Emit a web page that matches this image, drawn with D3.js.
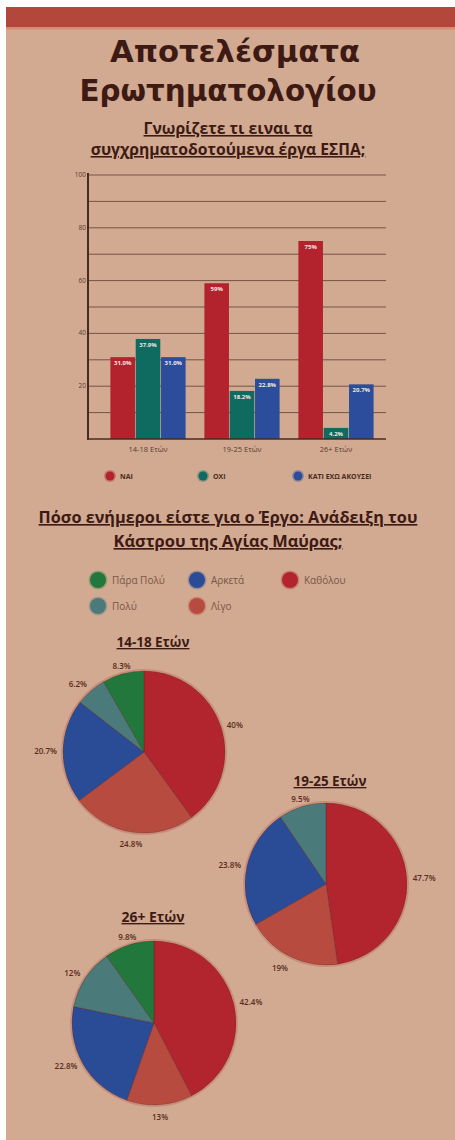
<!DOCTYPE html>
<html><head><meta charset="utf-8">
<script src="https://cdn.jsdelivr.net/npm/d3@7"></script>
<style>
html,body{margin:0;padding:0;background:#fff;}
svg{display:block;}
text{font-family:"Open Sans","DejaVu Sans",sans-serif;}
</style></head>
<body>
<svg id="c" width="455" height="1140"></svg>
<script>
// ---- data ----
const barGroups = ["14-18 Ετών", "19-25 Ετών", "26+ Ετών"];
const barSeries = ["ΝΑΙ", "ΟΧΙ", "ΚΑΤΙ ΕΧΩ ΑΚΟΥΣΕΙ"];
const valuesNai = [31.0, 59, 75];
const valuesOxi = [37.9, 18.2, 4.2];
const valuesKati = [31.0, 22.8, 20.7];
const barLabelsNai = ["31.0%", "59%", "75%"];
const barLabelsOxi = ["37.9%", "18.2%", "4.2%"];
const barLabelsKati = ["31.0%", "22.8%", "20.7%"];
const yTicks = [20, 40, 60, 80, 100];

const pieCategories = ["Καθόλου", "Λίγο", "Αρκετά", "Πολύ", "Πάρα Πολύ"];
const legendOrder = ["Πάρα Πολύ", "Αρκετά", "Καθόλου", "Πολύ", "Λίγο"];
const pie1418 = [40, 24.8, 20.7, 6.2, 8.3];
const pie1925 = [47.7, 19, 23.8, 9.5, 0];
const pie26 = [42.4, 13, 22.8, 12, 9.8];
const pie1418Labels = ["40%", "24.8%", "20.7%", "6.2%", "8.3%"];
const pie1925Labels = ["47.7%", "19%", "23.8%", "9.5%", ""];
const pie26Labels = ["42.4%", "13%", "22.8%", "12%", "9.8%"];
const pieTitles = ["14-18 Ετών", "19-25 Ετών", "26+ Ετών"];

// ---- styles ----
const BG = "#d1aa91", DARK = "#3e1a14";
const barColors = ["#b3232e", "#0f6a60", "#2b4d9b"];
const pieColors = {"Καθόλου":"#b2252e","Λίγο":"#b84b40","Αρκετά":"#2a4b95","Πολύ":"#4a7a7a","Πάρα Πολύ":"#21773c"};

const svg = d3.select("#c");
svg.append("rect").attr("x",6).attr("y",7).attr("width",449).attr("height",1133).attr("fill",BG);
svg.append("rect").attr("x",6).attr("y",7).attr("width",449).attr("height",20).attr("fill","#b4473c");
svg.append("rect").attr("x",6).attr("y",27).attr("width",449).attr("height",2.5).attr("fill","#d88a72");

function fit(t, w){
  const l = t.node().getComputedTextLength();
  const fs = parseFloat(t.attr("font-size"));
  t.attr("font-size", fs * w / l);
  return t;
}
function txt(x,y,s,fs,opt={}){
  const t = svg.append("text").attr("x",x).attr("y",y).attr("font-size",fs)
    .attr("text-anchor",opt.anchor||"middle").attr("fill",opt.fill||DARK)
    .attr("font-weight",opt.weight||700).text(s);
  if(opt.family) t.style("font-family",opt.family);
  if(opt.underline) t.style("text-decoration","underline");
  if(opt.width) fit(t,opt.width);
  if(opt.spread) t.attr("textLength",opt.spread).attr("lengthAdjust","spacingAndGlyphs");
  return t;
}

// titles
txt(235,62,"Αποτελέσματα",30,{weight:700,family:"DejaVu Sans",spread:250});
txt(228,101,"Ερωτηματολογίου",30,{weight:700,family:"DejaVu Sans",spread:297});
txt(228,134,"Γνωρίζετε τι ειναι τα",13,{underline:true,width:169});
txt(228,155,"συγχρηματοδοτούμενα έργα ΕΣΠΑ;",13,{underline:true,width:275});

// ---- bar chart ----
const y = d3.scaleLinear().domain([0,100]).range([439,175]);
const x0 = d3.scaleBand().domain(barGroups).range([101,383]).paddingInner(0.2).paddingOuter(0.1);
const x1 = d3.scaleBand().domain(barSeries).range([0,x0.bandwidth()]).paddingInner(0.03);
const g = svg.append("g");
g.selectAll("line.grid").data(d3.range(10,101,10)).join("line")
  .attr("x1",88).attr("x2",386).attr("y1",d=>y(d)).attr("y2",d=>y(d))
  .attr("stroke","#6e4a3a").attr("stroke-width",0.9);
g.selectAll("text.yt").data(yTicks).join("text")
  .attr("x",86).attr("y",d=>y(d)+2).attr("text-anchor","end").attr("font-size",6.5)
  .attr("fill","#5a3a30").text(d=>d);
const seriesVals = [valuesNai, valuesOxi, valuesKati];
const seriesLbls = [barLabelsNai, barLabelsOxi, barLabelsKati];
barSeries.forEach((s,si)=>{
  barGroups.forEach((grp,gi)=>{
    const v = seriesVals[si][gi];
    const bx = x0(grp)+x1(s), bw = x1.bandwidth();
    g.append("rect").attr("x",bx).attr("y",y(v)).attr("width",bw).attr("height",y(0)-y(v))
      .attr("fill",barColors[si]);
    g.append("text").attr("x",bx+bw/2).attr("y",y(v)+8).attr("text-anchor","middle")
      .attr("font-size",6).attr("font-weight",700).attr("fill","#f3e6e0").text(seriesLbls[si][gi]);
  });
});
g.append("line").attr("x1",88).attr("x2",386).attr("y1",y(0)).attr("y2",y(0)).attr("stroke","#4a2a20").attr("stroke-width",1.6);
g.append("line").attr("x1",88).attr("x2",88).attr("y1",173).attr("y2",440).attr("stroke","#4a2a20").attr("stroke-width",2);
g.selectAll("text.xl").data(barGroups).join("text")
  .attr("x",d=>x0(d)+x0.bandwidth()/2).attr("y",452).attr("text-anchor","middle")
  .attr("font-size",7.5).attr("fill","#5a3a30").text(d=>d);
// bar legend
const legX = [110,203,298];
barSeries.forEach((s,i)=>{
  svg.append("circle").attr("cx",legX[i]).attr("cy",476).attr("r",6).attr("fill",barColors[i]).attr("opacity",0.35);
  svg.append("circle").attr("cx",legX[i]).attr("cy",476).attr("r",4.5).attr("fill",barColors[i]);
  svg.append("text").attr("x",legX[i]+10).attr("y",478.5).attr("font-size",7).attr("font-weight",700)
    .attr("fill","#4a2a20").text(s);
});

// ---- section 2 ----
txt(228,523,"Πόσο ενήμεροι είστε για ο Έργο: Ανάδειξη του",13,{underline:true,width:379});
txt(228,547,"Κάστρου της Αγίας Μαύρας;",13,{underline:true,width:229});
const pLeg = [[98,580],[197,580],[290,580],[98,606],[197,606]];
legendOrder.forEach((c,i)=>{
  const [cx,cy]=pLeg[i];
  svg.append("circle").attr("cx",cx).attr("cy",cy).attr("r",9.5).attr("fill",pieColors[c]).attr("opacity",0.3);
  svg.append("circle").attr("cx",cx).attr("cy",cy).attr("r",8).attr("fill",pieColors[c]);
  svg.append("text").attr("x",cx+14).attr("y",cy+3.5).attr("font-size",10).attr("fill","#7a5548").text(c);
});

// ---- pies ----
const pieDefs = [
  {vals:pie1418, lbls:pie1418Labels, cx:144, cy:752, r:81, title:pieTitles[0], tx:153, ty:647, tw:73},
  {vals:pie1925, lbls:pie1925Labels, cx:326, cy:884, r:81, title:pieTitles[1], tx:330, ty:786, tw:73},
  {vals:pie26, lbls:pie26Labels, cx:154, cy:1023, r:82, title:pieTitles[2], tx:153, ty:922, tw:63}
];
const pie = d3.pie().sort(null).value(d=>d.v);
pieDefs.forEach(p=>{
  txt(p.tx,p.ty,p.title,10,{underline:true,width:p.tw});
  const data = pieCategories.map((c,i)=>({c, v:p.vals[i], l:p.lbls[i]}));
  const arcs = pie(data);
  const arc = d3.arc().innerRadius(0).outerRadius(p.r);
  const pg = svg.append("g").attr("transform",`translate(${p.cx},${p.cy})`);
  pg.append("circle").attr("r",p.r+1.2).attr("fill","none").attr("stroke","#c77a6a").attr("stroke-width",1.5).attr("opacity",0.6);
  pg.selectAll("path").data(arcs.filter(a=>a.data.v>0)).join("path")
    .attr("d",arc).attr("fill",d=>pieColors[d.data.c])
    .attr("stroke","#5a2420").attr("stroke-width",0.6).attr("stroke-opacity",0.6);
  arcs.filter(a=>a.data.v>0).forEach(a=>{
    const m = (a.startAngle+a.endAngle)/2;
    const s = Math.sin(m), co = Math.cos(m);
    const rr = p.r+6;
    const anchor = s>0.35?"start":(s<-0.35?"end":"middle");
    pg.append("text").attr("x",rr*s).attr("y",-rr*co+3 - (co>0.5?2:0) + (co<-0.5?6:0))
      .attr("text-anchor",anchor).attr("font-size",8).attr("font-weight",600)
      .attr("fill","#5a2a20").text(a.data.l);
  });
});
</script>
</body></html>
